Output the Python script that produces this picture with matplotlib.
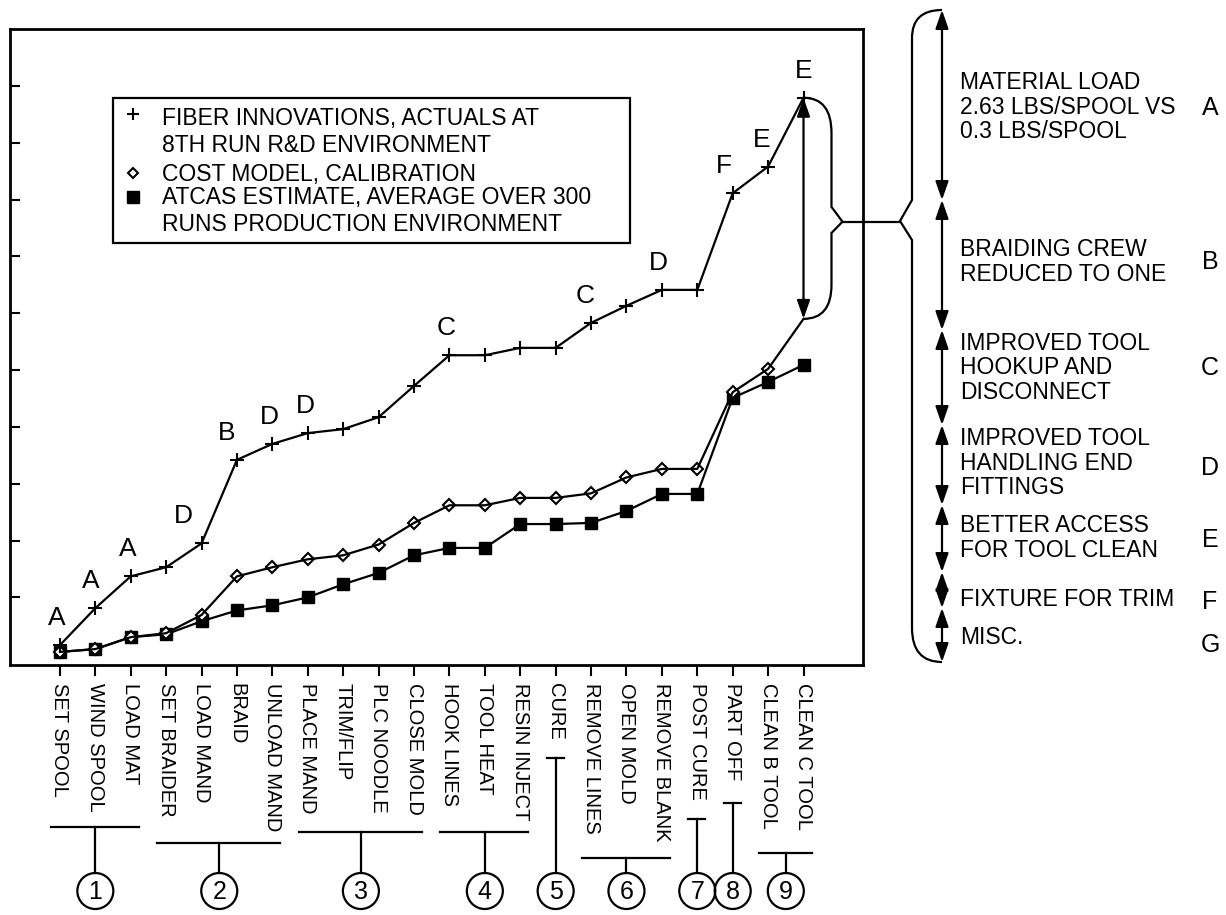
import matplotlib.pyplot as plt
from matplotlib.patches import Rectangle, Circle, PathPatch, FancyArrowPatch
from matplotlib.path import Path

plt.rcParams['font.family'] = ['Liberation Sans', 'DejaVu Sans']

# process steps along the x axis
steps = ["SET SPOOL", "WIND SPOOL", "LOAD MAT", "SET BRAIDER", "LOAD MAND",
         "BRAID", "UNLOAD MAND", "PLACE MAND", "TRIM/FLIP", "PLC NOODLE",
         "CLOSE MOLD", "HOOK LINES", "TOOL HEAT", "RESIN INJECT", "CURE",
         "REMOVE LINES", "OPEN MOLD", "REMOVE BLANK", "POST CURE", "PART OFF",
         "CLEAN B TOOL", "CLEAN C TOOL"]

# cumulative values (no y scale given)
fiber = [0.16, 0.81, 1.37, 1.53, 1.95, 3.42, 3.70, 3.89, 3.96, 4.17, 4.72,
         5.26, 5.26, 5.39, 5.39, 5.83, 6.13, 6.41, 6.41, 8.11, 8.58, 9.79]
cost_model = [0.04, 0.09, 0.30, 0.37, 0.69, 1.37, 1.53, 1.67, 1.74, 1.93, 2.31,
              2.62, 2.62, 2.75, 2.75, 2.83, 3.11, 3.26, 3.26, 4.61, 5.02, 5.90]
atcas = [0.04, 0.09, 0.30, 0.35, 0.58, 0.77, 0.86, 1.00, 1.23, 1.43, 1.74,
         1.87, 1.87, 2.29, 2.29, 2.31, 2.52, 2.82, 2.82, 4.51, 4.79, 5.09]

legend_labels = ["FIBER INNOVATIONS, ACTUALS AT\n8TH RUN R&D ENVIRONMENT",
                 "COST MODEL, CALIBRATION",
                 "ATCAS ESTIMATE, AVERAGE OVER 300\nRUNS PRODUCTION ENVIRONMENT"]

# letter codes written above the fiber curve
letters = ["A", "A", "A", "D", "B", "D", "D", "C", "C", "D", "F", "E", "E"]
letter_at = [0, 1, 2, 4, 5, 6, 7, 11, 15, 17, 19, 20, 21]
letter_dx = [-3, -5, -3, -18, -10, -3, -2, -3, -6, -4, -9, -6, 0]

# step groups under the axis
groups = ["1", "2", "3", "4", "5", "6", "7", "8", "9"]
group_first = [0, 3, 7, 11, 14, 15, 18, 19, 20]
group_last = [2, 6, 10, 13, 14, 17, 18, 19, 21]
group_bar_y = [827, 843, 832, 832, 758, 858, 819, 803, 853]

# explanation of the gap
reasons = ["MATERIAL LOAD\n2.63 LBS/SPOOL VS\n0.3 LBS/SPOOL",
           "BRAIDING CREW\nREDUCED TO ONE",
           "IMPROVED TOOL\nHOOKUP AND\nDISCONNECT",
           "IMPROVED TOOL\nHANDLING END\nFITTINGS",
           "BETTER ACCESS\nFOR TOOL CLEAN",
           "FIXTURE FOR TRIM",
           "MISC."]
reason_codes = ["A", "B", "C", "D", "E", "F", "G"]
reason_bounds = [10, 200, 330, 425, 505, 572, 608, 662]
reason_text_y = [107, 262, 368, 463, 538, 600, 638]
reason_code_y = [108, 262, 368, 468, 540, 602, 645]

W, H = 1226, 915
fig = plt.figure(figsize=(W / 100, H / 100), dpi=100)
ax = fig.add_axes([10 / W, 1 - 665 / H, 853 / W, 636 / H])

x = list(range(len(steps)))
lw = 1.6
ax.plot(x, atcas, color="black", lw=lw, marker="s", ms=9, zorder=3)
ax.plot(x[:-1], cost_model[:-1], color="black", lw=0, marker="D", ms=6,
        mfc="white", mew=1.5, zorder=4)
ax.plot(x, cost_model, color="black", lw=lw, zorder=4)
ax.plot(x, fiber, color="black", lw=lw, marker="+", ms=10, mew=1.5, zorder=5)

ax.set_xlim(-1.41, 22.68)
ax.set_ylim(-0.19, 11.0)
ax.set_xticks(x)
ax.set_xticklabels(steps, rotation=270, fontsize=14.5)
ax.set_yticks(range(1, 11))
ax.set_yticklabels([])
ax.tick_params(axis="x", direction="out", length=8, width=1.5, pad=5)
ax.tick_params(axis="y", direction="in", length=7, width=1.5)
for s in ax.spines.values():
    s.set_linewidth(2)

for lab, i, dx in zip(letters, letter_at, letter_dx):
    ax.annotate(lab, (i, fiber[i]), xytext=(dx, 27), textcoords="offset pixels",
                ha="center", va="center", fontsize=19)

# gap arrow and small brace at the last step
xe = x[-1]
top, bot = fiber[-1], cost_model[-1]
kink = 7.61
ax.add_patch(FancyArrowPatch((xe, top), (xe, bot),
                             arrowstyle="<|-|>,head_length=0.8,head_width=0.28",
                             mutation_scale=14, lw=lw, color="black",
                             shrinkA=0, shrinkB=0, zorder=6))
bw = 0.79
brace = Path([(xe, top), (xe + bw, top), (xe + bw, top - 0.62),
              (xe + bw, kink + 0.26), (xe + 1.1, kink), (xe + bw, kink - 0.2),
              (xe + bw, bot + 0.6), (xe + bw, bot), (xe, bot)],
             [Path.MOVETO, Path.CURVE3, Path.CURVE3, Path.LINETO, Path.LINETO,
              Path.LINETO, Path.LINETO, Path.CURVE3, Path.CURVE3])
ax.add_patch(PathPatch(brace, fill=False, lw=lw, clip_on=False))
ax.plot([xe + 1.1, 23.7], [kink, kink], color="black", lw=lw, clip_on=False)

# overlay in pixel units for the annotations around the plot
ov = fig.add_axes([0, 0, 1, 1])
ov.set_xlim(0, W)
ov.set_ylim(H, 0)
ov.axis("off")

# legend box
ov.add_patch(Rectangle((113, 98), 517, 145, fill=False, lw=lw))
ov.plot(133, 114, marker="+", ms=9, mew=1.5, color="black")
ov.plot(133, 173, marker="D", ms=5.5, mfc="white", mew=1.5, color="black")
ov.plot(133, 197, marker="s", ms=8, color="black")
for lab, cy in zip(legend_labels, [132, 174, 211]):
    ov.text(162, cy, lab, ha="left", va="center", fontsize=16.5, linespacing=1.2)

# big brace on the right
bx, vx = 912, 942
big = Path([(vx, 10), (bx, 10), (bx, 38), (bx, 200), (900, 221), (bx, 240),
            (bx, 628), (bx, 662), (vx, 662)],
           [Path.MOVETO, Path.CURVE3, Path.CURVE3, Path.LINETO, Path.LINETO,
            Path.LINETO, Path.LINETO, Path.CURVE3, Path.CURVE3])
ov.add_patch(PathPatch(big, fill=False, lw=lw))
for a, b in zip(reason_bounds[:-1], reason_bounds[1:]):
    ov.add_patch(FancyArrowPatch((vx, a), (vx, b),
                                 arrowstyle="<|-|>,head_length=0.8,head_width=0.28",
                                 mutation_scale=14, lw=lw, color="black",
                                 shrinkA=0, shrinkB=0))
for txt, code, ty, cy in zip(reasons, reason_codes, reason_text_y, reason_code_y):
    ov.text(960, ty, txt, ha="left", va="center", fontsize=16.5, linespacing=1.1)
    ov.text(1210, cy, code, ha="center", va="center", fontsize=18)

# numbered step groups
fig.canvas.draw()
def tick_px(i):
    return ax.transData.transform((i, 0))[0]

for g, a, b, by in zip(groups, group_first, group_last, group_bar_y):
    xa, xb = tick_px(a), tick_px(b)
    left, right = xa - 9, xb + 8
    cx = (xa + xb) / 2
    ov.plot([left, right], [by, by], color="black", lw=lw)
    ov.plot([cx, cx], [by, 873], color="black", lw=lw)
    ov.add_patch(Circle((cx, 891), 18, fill=False, lw=lw))
    ov.text(cx, 892, g, ha="center", va="center", fontsize=18)

fig.savefig("out.png", dpi=100)
